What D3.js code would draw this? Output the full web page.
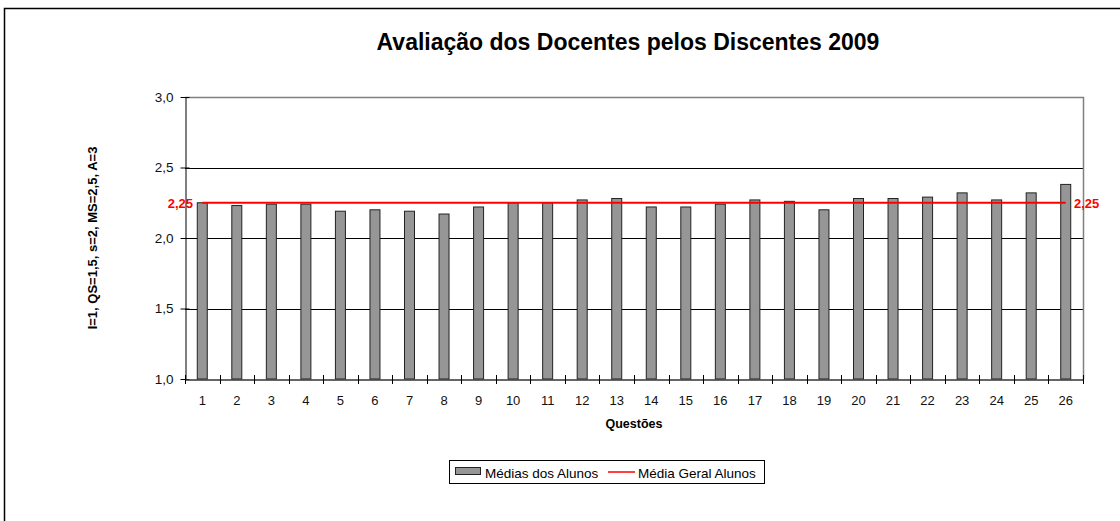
<!DOCTYPE html>
<html><head><meta charset="utf-8">
<script src="https://cdn.jsdelivr.net/npm/d3@7"></script>
<style>body{margin:0;background:#fff}svg{display:block;font-family:Arial,"Liberation Sans",sans-serif}</style>
</head><body>
<svg id="c" width="1120" height="521"></svg>
<script>
const categories = ["1","2","3","4","5","6","7","8","9","10","11","12","13","14","15","16","17","18","19","20","21","22","23","24","25","26"];
const mediasAlunos = [2.25,2.23,2.24,2.24,2.19,2.20,2.19,2.17,2.22,2.25,2.25,2.27,2.28,2.22,2.22,2.24,2.27,2.26,2.20,2.28,2.28,2.29,2.32,2.27,2.32,2.38];
const mediaGeral = 2.25;
const yTicks = [1.0,1.5,2.0,2.5,3.0];
const title = "Avaliação dos Docentes pelos Discentes 2009";
const xTitle = "Questões";
const yTitle = "I=1, QS=1,5, s=2, MS=2,5, A=3";
const legendLabels = ["Médias dos Alunos","Média Geral Alunos"];

const svg = d3.select("#c");
const L = 185, R = 1083, T = 97, B = 379;
const fmt = v => d3.format(".1f")(v).replace(".", ",");
const fmt2 = v => d3.format(".2f")(v).replace(".", ",");

// outer border
svg.append("rect").attr("x",4.5).attr("y",8.5).attr("width",1200).attr("height",600)
  .attr("fill","none").attr("stroke","#000").attr("stroke-width",1.5);

const x = d3.scaleBand().domain(categories).range([L,R]).paddingInner(0).paddingOuter(0);
const y = d3.scaleLinear().domain([1,3]).range([B,T]);

// gridlines
svg.append("g").selectAll("line").data(yTicks.filter(v=>v>1&&v<3)).join("line")
  .attr("x1",L).attr("x2",R).attr("y1",d=>Math.round(y(d))+0.5).attr("y2",d=>Math.round(y(d))+0.5)
  .attr("stroke","#000").attr("stroke-width",1);
// plot border top/right gray
svg.append("path").attr("d",`M${L},${T+0.5}H${R+0.5}V${B}`).attr("fill","none").attr("stroke","#808080").attr("stroke-width",1.5);

// bars
const bw = 10;
svg.append("g").selectAll("rect").data(mediasAlunos).join("rect")
  .attr("x",(d,i)=>x(categories[i])+x.bandwidth()/2-bw/2)
  .attr("y",d=>y(d)).attr("width",bw).attr("height",d=>B-y(d))
  .attr("fill","#969696").attr("stroke","#222").attr("stroke-width",1);

// y axis
const yAxis = d3.axisLeft(y).tickValues(yTicks).tickFormat(fmt).tickSizeInner(5).tickSizeOuter(0).tickPadding(7);
const gy = svg.append("g").attr("transform",`translate(${L+0.5},0)`).call(yAxis);
gy.select(".domain").attr("stroke","#000");
gy.selectAll(".tick line").attr("x2",-5).attr("x1",4).attr("stroke","#000");
gy.selectAll("text").attr("font-size",13.5).attr("fill","#111").attr("font-family","Arial,'Liberation Sans',sans-serif");

// x axis
const xAxis = d3.axisBottom(x).tickSize(0).tickPadding(16);
const gx = svg.append("g").attr("transform",`translate(0,${B+0.5})`).call(xAxis);
gx.select(".domain").attr("stroke","#333").attr("stroke-width",1.5);
gx.selectAll("text").attr("font-size",13).attr("fill","#111").attr("font-family","Arial,'Liberation Sans',sans-serif");
// tick marks between categories
const bounds = categories.map(c=>x(c)).concat([R]);
svg.append("g").selectAll("line").data(bounds).join("line")
  .attr("x1",d=>Math.round(d)+0.5).attr("x2",d=>Math.round(d)+0.5).attr("y1",B-4).attr("y2",B+5)
  .attr("stroke","#000");

// average line
const x0 = x(categories[0])+x.bandwidth()/2, x1 = x(categories[categories.length-1])+x.bandwidth()/2;
svg.append("line").attr("x1",x0).attr("x2",x1).attr("y1",y(mediaGeral)).attr("y2",y(mediaGeral))
  .attr("stroke","#ff0000").attr("stroke-width",2);
svg.append("text").attr("x",193).attr("y",y(mediaGeral)+5).attr("text-anchor","end")
  .attr("font-size",13).attr("font-weight","bold").attr("fill","#ff0000").text(fmt2(mediaGeral));
svg.append("text").attr("x",1074).attr("y",y(mediaGeral)+5).attr("text-anchor","start")
  .attr("font-size",13).attr("font-weight","bold").attr("fill","#ff0000").text(fmt2(mediaGeral));

// titles
svg.append("text").attr("x",628).attr("y",50).attr("text-anchor","middle")
  .attr("font-size",23).attr("font-weight","bold").text(title);
svg.append("text").attr("x",(L+R)/2).attr("y",428).attr("text-anchor","middle")
  .attr("font-size",12.5).attr("font-weight","bold").text(xTitle);
svg.append("text").attr("transform",`translate(97,${(T+B)/2}) rotate(-90)`).attr("text-anchor","middle")
  .attr("font-size",13).attr("font-weight","bold").text(yTitle);

// legend
const lg = svg.append("g");
lg.append("rect").attr("x",449.5).attr("y",460.5).attr("width",315).attr("height",23)
  .attr("fill","#fff").attr("stroke","#000");
lg.append("rect").attr("x",455.5).attr("y",467.5).attr("width",25).attr("height",7)
  .attr("fill","#969696").attr("stroke","#222");
lg.append("text").attr("x",485).attr("y",478).attr("font-size",13.5).text(legendLabels[0]);
lg.append("line").attr("x1",608).attr("x2",635).attr("y1",472).attr("y2",472).attr("stroke","#ff0000").attr("stroke-width",1.5);
lg.append("text").attr("x",638).attr("y",478).attr("font-size",13.5).text(legendLabels[1]);
</script>
</body></html>
